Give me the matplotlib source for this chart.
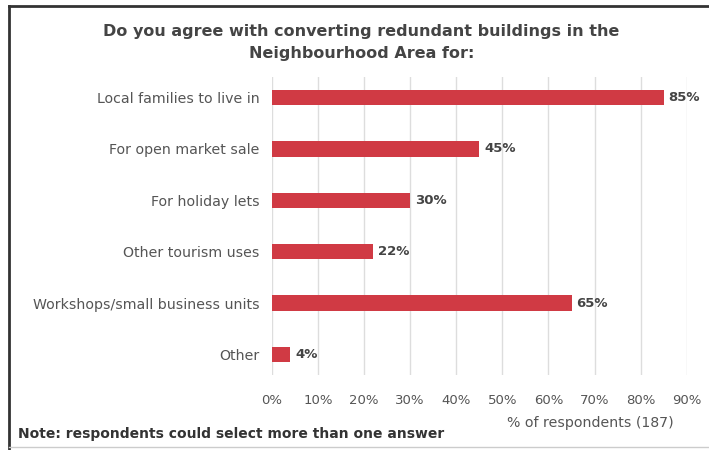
import matplotlib.pyplot as plt
from matplotlib.lines import Line2D

# Survey answers (share of 187 respondents)
categories = ["Local families to live in", "For open market sale", "For holiday lets",
              "Other tourism uses", "Workshops/small business units", "Other"]
percent = [85, 45, 30, 22, 65, 4]
ticks = list(range(0, 100, 10))

bar_color = "#d03a44"
text_color = "#555555"

fig = plt.figure(figsize=(7.09, 4.5), dpi=100)
ax = fig.add_axes([0.3836, 0.1667, 0.585, 0.662])

y = list(range(len(categories)))
ax.barh(y, percent, height=0.3, color=bar_color, zorder=3)
ax.set_ylim(len(categories) - 0.6, -0.4)
ax.set_xlim(0, 90)
ax.set_yticks(y)
ax.set_yticklabels(categories, fontsize=10.2, color=text_color)
ax.set_xticks(ticks)
ax.set_xticklabels([f"{t}%" for t in ticks], fontsize=9.5, color=text_color)
ax.tick_params(length=0, pad=9)
ax.tick_params(axis="x", pad=14)
ax.grid(axis="x", color="#dddddd", linewidth=1, zorder=0)
for s in ax.spines.values():
    s.set_visible(False)

for yi, v in zip(y, percent):
    ax.text(v + 1, yi, f"{v}%", va="center", ha="left", fontsize=9.5,
            fontweight="bold", color="#444444")

fig.text(0.51, 0.905, "Do you agree with converting redundant buildings in the\nNeighbourhood Area for:",
         ha="center", va="center", fontsize=11.5, fontweight="bold", color="#444444",
         linespacing=1.6)
fig.text(0.832, 0.06, "% of respondents (187)", ha="center", va="center",
         fontsize=10.2, color=text_color)
fig.text(0.026, 0.036, "Note: respondents could select more than one answer", ha="left",
         va="center", fontsize=10, fontweight="bold", color="#333333")

# frame around the chart
fig.add_artist(Line2D([0.013, 0.013], [0.0, 0.986], color="#333333", lw=2))
fig.add_artist(Line2D([0.013, 1.0], [0.986, 0.986], color="#333333", lw=2))
fig.add_artist(Line2D([0.013, 1.0], [0.006, 0.006], color="#cccccc", lw=1))

fig.savefig("out.png", dpi=100)
